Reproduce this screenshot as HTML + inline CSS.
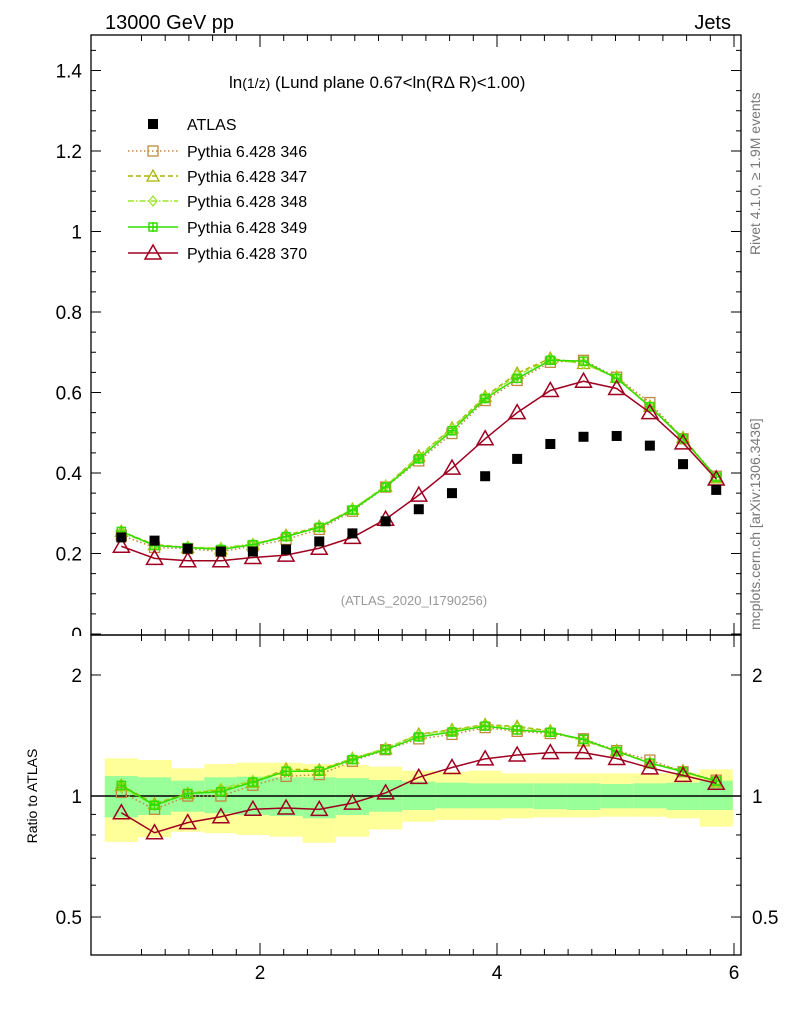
<!DOCTYPE html>
<html><head><meta charset="utf-8"><style>
body{margin:0;background:#fff;}
svg{display:block;font-family:"Liberation Sans",sans-serif;}
</style></head><body>
<svg id="c" width="786" height="1024" viewBox="0 0 786 1024" xmlns="http://www.w3.org/2000/svg">
<text x="105" y="29" font-size="20">13000 GeV pp</text>
<text x="731" y="29" font-size="20" text-anchor="end">Jets</text>
<text x="229" y="88" font-size="17">ln<tspan font-size="14">(1/z)</tspan> (Lund plane 0.67&lt;ln(RΔ R)&lt;1.00)</text>
<text x="414" y="605" font-size="13" fill="#999" text-anchor="middle">(ATLAS_2020_I1790256)</text>
<text transform="translate(760,255) rotate(-90)" font-size="14" fill="#777">Rivet 4.1.0, ≥ 1.9M events</text>
<text transform="translate(760,630) rotate(-90)" font-size="14" fill="#777">mcplots.cern.ch [arXiv:1306.3436]</text>
<text transform="translate(37,796) rotate(-90)" font-size="14" text-anchor="middle">Ratio to ATLAS</text>
<g id="bands"></g><g id="axes"></g><g id="series"></g><g id="legend"></g>
</svg>
<script>
const xs=[0.83,1.11,1.39,1.67,1.94,2.22,2.50,2.78,3.06,3.34,3.62,3.90,4.17,4.45,4.73,5.01,5.29,5.57,5.85];
const atlas=[0.240,0.232,0.212,0.205,0.205,0.210,0.230,0.250,0.280,0.310,0.350,0.392,0.435,0.472,0.490,0.492,0.468,0.422,0.358];
const p346=[0.245,0.215,0.212,0.205,0.218,0.235,0.260,0.305,0.365,0.430,0.498,0.580,0.630,0.675,0.680,0.638,0.575,0.485,0.392];
const p347=[0.255,0.222,0.215,0.212,0.222,0.245,0.267,0.310,0.367,0.442,0.512,0.590,0.648,0.685,0.672,0.638,0.566,0.488,0.388];
const p348=[0.252,0.220,0.215,0.214,0.224,0.242,0.266,0.310,0.368,0.440,0.510,0.588,0.643,0.682,0.672,0.636,0.565,0.485,0.388];
const p349=[0.255,0.220,0.215,0.210,0.222,0.242,0.265,0.308,0.365,0.435,0.505,0.585,0.635,0.680,0.678,0.635,0.565,0.485,0.390];
const p370=[0.218,0.188,0.182,0.182,0.190,0.196,0.213,0.240,0.285,0.345,0.412,0.485,0.550,0.605,0.628,0.610,0.550,0.475,0.385];
const gUp=[1.121,1.113,1.092,1.113,1.117,1.113,1.113,1.107,1.096,1.086,1.079,1.075,1.075,1.075,1.075,1.071,1.075,1.079,1.092];
const gDn=[0.885,0.897,0.914,0.906,0.897,0.892,0.880,0.897,0.914,0.923,0.932,0.932,0.932,0.927,0.923,0.932,0.932,0.923,0.923];
const yUp=[1.241,1.229,1.172,1.201,1.210,1.210,1.201,1.194,1.183,1.156,1.149,1.156,1.139,1.139,1.139,1.139,1.139,1.139,1.165];
const yDn=[0.769,0.789,0.815,0.808,0.800,0.792,0.765,0.792,0.826,0.863,0.872,0.872,0.880,0.885,0.885,0.888,0.888,0.880,0.839];
const mainTicks=["0","0.2","0.4","0.6","0.8","1","1.2","1.4"];
const xTicks=["2","4","6"];
const NS="http://www.w3.org/2000/svg";
const L=91,R=741,T1=35,B1=635,B2=955;
const X=v=>23+v*118.5;
const Y=v=>634-v*402.5;
const YR=v=>796-Math.log10(v)*402;
function mk(tag,at,par){const e=document.createElementNS(NS,tag);for(const k in at)e.setAttribute(k,at[k]);document.getElementById(par).appendChild(e);return e;}
const hw=(X(xs[1])-X(xs[0]))/2;
xs.forEach((x,i)=>{
 const a=mk('rect',{x:X(x)-hw,y:YR(yUp[i]),width:2*hw,height:YR(yDn[i])-YR(yUp[i]),fill:'#ffff99'},'bands');
 
 
 const b=mk('rect',{x:X(x)-hw,y:YR(gUp[i]),width:2*hw,height:YR(gDn[i])-YR(gUp[i]),fill:'#99ff99'},'bands');
 
 
});
mainTicks.forEach(t=>{const e=mk('text',{x:82,y:Y(+t)+7,'font-size':19,'text-anchor':'end'},'axes');e.textContent=t;
 
 });
// cover the "0" label lower half like reference
mk('rect',{x:40,y:B1+1,width:50,height:10,fill:'#fff'},'axes');
// frames
mk('rect',{x:L,y:T1,width:R-L,height:B1-T1,fill:'none',stroke:'#000','stroke-width':1.3},'axes');
mk('rect',{x:L,y:B1,width:R-L,height:B2-B1,fill:'none',stroke:'#000','stroke-width':1.3},'axes');
mk('line',{x1:L,x2:R,y1:YR(1),y2:YR(1),stroke:'#000','stroke-width':1.5},'axes');
// main y ticks
for(let v=0;v<=1.5001;v+=0.05){const maj=Math.abs(v*10-Math.round(v*10))<0.01&&Math.round(v*10)%2==0;const l=maj?10:5;const y=Y(v);if(y<T1)continue;
 mk('line',{x1:L,x2:L+l,y1:y,y2:y,stroke:'#000'},'axes');mk('line',{x1:R,x2:R-l,y1:y,y2:y,stroke:'#000'},'axes');}
// ratio ticks
[0.5,0.6,0.7,0.8,0.9,1,2].forEach(v=>{const y=YR(v);const l=(v==0.5||v==1||v==2)?10:5;
 mk('line',{x1:L,x2:L+l,y1:y,y2:y,stroke:'#000'},'axes');mk('line',{x1:R,x2:R-l,y1:y,y2:y,stroke:'#000'},'axes');});
[["2",2],["1",1],["0.5",0.5]].forEach(([t,v])=>{[82,752].forEach(xx=>{const e=mk('text',{x:xx,y:YR(v)+7,'font-size':19,'text-anchor':xx<100?'end':'start'},'axes');e.textContent=t;
 
 });});
// x ticks
for(let v=1;v<=6.01;v+=0.2){const maj=Math.abs(v-Math.round(v))<0.01&&Math.round(v)%2==0;const l=maj?12:6;const x=X(v);if(x<L||x>R)continue;
 [B1,B2].forEach(b=>mk('line',{x1:x,x2:x,y1:b,y2:b-l,stroke:'#000'},'axes'));
 [T1,B1].forEach(t=>mk('line',{x1:x,x2:x,y1:t,y2:t+l,stroke:'#000'},'axes'));}
xTicks.forEach(t=>{const e=mk('text',{x:X(+t),y:979,'font-size':19,'text-anchor':'middle'},'axes');e.textContent=t;
 
 });
// series
const S=[
 {d:p346,c:'#c08a3e',dash:'1.5,2.5',m:'sq',name:'Pythia 6.428 346'},
 {d:p347,c:'#a8b400',dash:'5,3',m:'tri',name:'Pythia 6.428 347'},
 {d:p348,c:'#9be62a',dash:'6,2,1.5,2',m:'dia',name:'Pythia 6.428 348'},
 {d:p349,c:'#33dd00',dash:'',m:'cross',name:'Pythia 6.428 349'},
 {d:p370,c:'#a00020',dash:'',m:'bigtri',name:'Pythia 6.428 370'}];
function marker(m,x,y,c,par){
 if(m=='sq')return mk('rect',{x:x-5,y:y-5,width:10,height:10,fill:'none',stroke:c,'stroke-width':1.3},par);
 if(m=='tri')return mk('path',{d:`M${x},${y-6}L${x+6},${y+5}L${x-6},${y+5}Z`,fill:'none',stroke:c,'stroke-width':1.3},par);
 if(m=='dia')return mk('path',{d:`M${x},${y-5}L${x+4},${y}L${x},${y+5}L${x-4},${y}Z`,fill:'none',stroke:c,'stroke-width':1.3},par);
 if(m=='cross')return mk('path',{d:`M${x-4},${y-4}h8v8h-8zM${x-5},${y}h10M${x},${y-5}v10`,fill:'none',stroke:c,'stroke-width':1.5},par);
 return mk('path',{d:`M${x},${y-8}L${x+8},${y+6}L${x-8},${y+6}Z`,fill:'none',stroke:c,'stroke-width':1.5},par);
}
S.forEach(s=>{
 [0,1].forEach(k=>{
  const pts=xs.map((x,i)=>[X(x),k==0?Y(s.d[i]):YR(s.d[i]/atlas[i])]);
  const pl=mk('polyline',{points:pts.map(p=>p.join(',')).join(' '),fill:'none',stroke:s.c,'stroke-width':1.5,'stroke-dasharray':s.dash},'series');
  
  
  pts.forEach(p=>{const m=marker(s.m,p[0],p[1],s.c,'series');
   
   });
 });
});
xs.forEach((x,i)=>{const r=mk('rect',{x:X(x)-5,y:Y(atlas[i])-5,width:10,height:10,fill:'#000'},'series');
 
 });
// legend
const ly=[124,151,176,201,227,253];
const r0=mk('rect',{x:148,y:ly[0]-5,width:10,height:10,fill:'#000'},'legend');
const t0=mk('text',{x:187,y:ly[0]+6,'font-size':16},'legend');t0.textContent='ATLAS';


S.forEach((s,i)=>{const y=ly[i+1];
 mk('line',{x1:128,x2:178,y1:y,y2:y,stroke:s.c,'stroke-width':1.5,'stroke-dasharray':s.dash},'legend');
 marker(s.m,153,y,s.c,'legend');
 const t=mk('text',{x:187,y:y+6,'font-size':16},'legend');t.textContent=s.name;
 
 });
</script>
</body></html>
